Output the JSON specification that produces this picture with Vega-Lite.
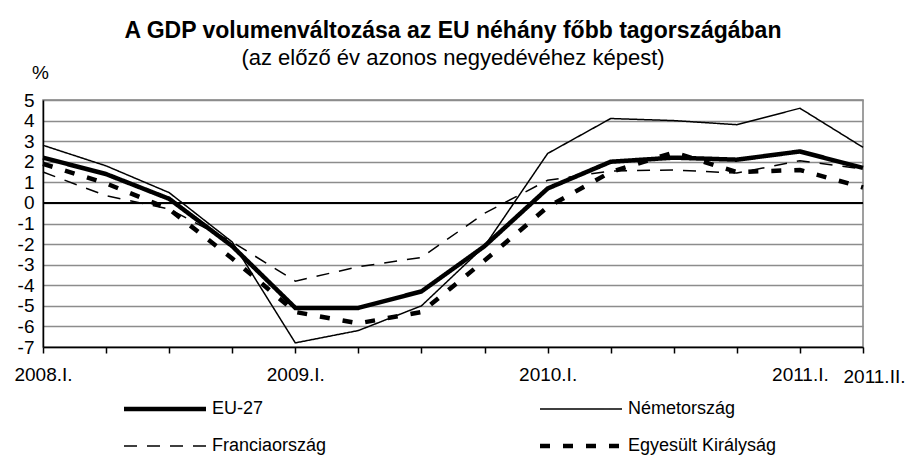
{
  "$schema": "https://vega.github.io/schema/vega-lite/v6.json",
  "width": 820,
  "height": 247,
  "autosize": "none",
  "padding": {"left": 43, "top": 100, "right": 48, "bottom": 110},
  "background": "white",
  "config": {
    "font": "Liberation Sans",
    "view": {"stroke": "#808080", "strokeWidth": 1.5},
    "axis": {"labelFont": "Liberation Sans", "titleFont": "Liberation Sans", "labelColor": "black", "titleColor": "black", "labelOverlap": false},
    "legend": {"labelFont": "Liberation Sans"}
  },
  "title": {
    "text": "A GDP volumenváltozása az EU néhány főbb tagországában",
    "subtitle": "(az előző év azonos negyedévéhez képest)",
    "font": "Liberation Sans",
    "fontSize": 23,
    "fontWeight": "bold",
    "color": "black",
    "subtitleFont": "Liberation Sans",
    "subtitleFontSize": 22,
    "subtitleColor": "black",
    "subtitlePadding": 5,
    "anchor": "middle",
    "frame": "group",
    "offset": -6
  },
  "data": {
    "values": [
      {"q": "2008.I.", "orszag": "EU-27", "v": 2.2},
      {"q": "2008.II.", "orszag": "EU-27", "v": 1.4},
      {"q": "2008.III.", "orszag": "EU-27", "v": 0.2},
      {"q": "2008.IV.", "orszag": "EU-27", "v": -2.1},
      {"q": "2009.I.", "orszag": "EU-27", "v": -5.1},
      {"q": "2009.II.", "orszag": "EU-27", "v": -5.1},
      {"q": "2009.III.", "orszag": "EU-27", "v": -4.3},
      {"q": "2009.IV.", "orszag": "EU-27", "v": -2.1},
      {"q": "2010.I.", "orszag": "EU-27", "v": 0.7},
      {"q": "2010.II.", "orszag": "EU-27", "v": 2.0},
      {"q": "2010.III.", "orszag": "EU-27", "v": 2.2},
      {"q": "2010.IV.", "orszag": "EU-27", "v": 2.1},
      {"q": "2011.I.", "orszag": "EU-27", "v": 2.5},
      {"q": "2011.II.", "orszag": "EU-27", "v": 1.7},
      {"q": "2008.I.", "orszag": "Németország", "v": 2.8},
      {"q": "2008.II.", "orszag": "Németország", "v": 1.8},
      {"q": "2008.III.", "orszag": "Németország", "v": 0.5},
      {"q": "2008.IV.", "orszag": "Németország", "v": -1.9},
      {"q": "2009.I.", "orszag": "Németország", "v": -6.8},
      {"q": "2009.II.", "orszag": "Németország", "v": -6.2},
      {"q": "2009.III.", "orszag": "Németország", "v": -5.0},
      {"q": "2009.IV.", "orszag": "Németország", "v": -2.1},
      {"q": "2010.I.", "orszag": "Németország", "v": 2.4},
      {"q": "2010.II.", "orszag": "Németország", "v": 4.1},
      {"q": "2010.III.", "orszag": "Németország", "v": 4.0},
      {"q": "2010.IV.", "orszag": "Németország", "v": 3.8},
      {"q": "2011.I.", "orszag": "Németország", "v": 4.6},
      {"q": "2011.II.", "orszag": "Németország", "v": 2.7},
      {"q": "2008.I.", "orszag": "Franciaország", "v": 1.5},
      {"q": "2008.II.", "orszag": "Franciaország", "v": 0.35},
      {"q": "2008.III.", "orszag": "Franciaország", "v": -0.3},
      {"q": "2008.IV.", "orszag": "Franciaország", "v": -1.9},
      {"q": "2009.I.", "orszag": "Franciaország", "v": -3.8},
      {"q": "2009.II.", "orszag": "Franciaország", "v": -3.1},
      {"q": "2009.III.", "orszag": "Franciaország", "v": -2.65},
      {"q": "2009.IV.", "orszag": "Franciaország", "v": -0.5},
      {"q": "2010.I.", "orszag": "Franciaország", "v": 1.1},
      {"q": "2010.II.", "orszag": "Franciaország", "v": 1.55},
      {"q": "2010.III.", "orszag": "Franciaország", "v": 1.6},
      {"q": "2010.IV.", "orszag": "Franciaország", "v": 1.45},
      {"q": "2011.I.", "orszag": "Franciaország", "v": 2.05},
      {"q": "2011.II.", "orszag": "Franciaország", "v": 1.65},
      {"q": "2008.I.", "orszag": "Egyesült Királyság", "v": 1.9},
      {"q": "2008.II.", "orszag": "Egyesült Királyság", "v": 0.95},
      {"q": "2008.III.", "orszag": "Egyesült Királyság", "v": -0.3},
      {"q": "2008.IV.", "orszag": "Egyesült Királyság", "v": -2.7},
      {"q": "2009.I.", "orszag": "Egyesült Királyság", "v": -5.3},
      {"q": "2009.II.", "orszag": "Egyesült Királyság", "v": -5.85},
      {"q": "2009.III.", "orszag": "Egyesült Királyság", "v": -5.3},
      {"q": "2009.IV.", "orszag": "Egyesült Királyság", "v": -2.8},
      {"q": "2010.I.", "orszag": "Egyesült Királyság", "v": -0.2},
      {"q": "2010.II.", "orszag": "Egyesült Királyság", "v": 1.5},
      {"q": "2010.III.", "orszag": "Egyesült Királyság", "v": 2.45},
      {"q": "2010.IV.", "orszag": "Egyesült Királyság", "v": 1.5},
      {"q": "2011.I.", "orszag": "Egyesült Királyság", "v": 1.6},
      {"q": "2011.II.", "orszag": "Egyesült Királyság", "v": 0.75}
    ]
  },
  "layer": [
    {
      "mark": {"type": "line", "color": "black", "strokeJoin": "miter", "strokeCap": "butt"},
      "encoding": {
        "x": {
          "field": "q",
          "type": "ordinal",
          "sort": ["2008.I.","2008.II.","2008.III.","2008.IV.","2009.I.","2009.II.","2009.III.","2009.IV.","2010.I.","2010.II.","2010.III.","2010.IV.","2011.I.","2011.II."],
          "scale": {"type": "point", "padding": 0},
          "axis": {
            "title": null,
            "labelAngle": 0,
            "labelFontSize": 19,
            "labelPadding": {"condition": {"test": "datum.value == '2011.II.'", "value": 14}, "value": 12},
            "labelOffset": {"condition": {"test": "datum.value == '2011.II.'", "value": 11}, "value": 0},
            "labelOverlap": false,
            "labelExpr": "indexof(['2008.I.','2009.I.','2010.I.','2011.I.','2011.II.'], datum.value) >= 0 ? datum.value : ''",
            "domainColor": "black",
            "domainWidth": 1.5,
            "tickColor": "black",
            "tickWidth": 1.5,
            "tickSize": 6,
            "grid": false
          }
        },
        "y": {
          "field": "v",
          "type": "quantitative",
          "scale": {"domain": [-7, 5], "nice": false, "zero": false},
          "axis": {
            "title": "%",
            "titleAngle": 0,
            "titleFontSize": 19,
            "titleFontWeight": "normal",
            "titleX": -3,
            "titleY": -28,
            "titleAlign": "center",
            "titleBaseline": "middle",
            "values": [-7,-6,-5,-4,-3,-2,-1,0,1,2,3,4,5],
            "tickCount": 13,
            "labelExpr": "'' + datum.value",
            "labelOverlap": false,
            "labelFontSize": 19,
            "labelPadding": 9,
            "ticks": false,
            "domainColor": "black",
            "domainWidth": 1.5,
            "gridColor": "#8c8c8c",
            "gridWidth": 1.5
          }
        },
        "strokeDash": {
          "field": "orszag",
          "type": "nominal",
          "scale": {
            "domain": ["EU-27", "Németország", "Franciaország", "Egyesült Királyság"],
            "range": [[1, 0], [1, 0], [13, 10], [10, 13]]
          },
          "legend": {
            "title": null,
            "orient": "none",
            "legendX": 77,
            "legendY": 300,
            "padding": 0,
            "direction": "horizontal",
            "columns": 2,
            "columnPadding": 204,
            "rowPadding": 19,
            "symbolType": "M-1,0H15.4",
            "symbolSize": 100,
            "symbolStrokeColor": "black",
            "labelFontSize": 18,
            "labelColor": "black",
            "labelOffset": 74,
            "labelLimit": 300
          }
        },
        "strokeWidth": {
          "field": "orszag",
          "type": "nominal",
          "scale": {
            "type": "ordinal",
            "domain": ["EU-27", "Németország", "Franciaország", "Egyesült Királyság"],
            "range": [4.5, 1.5, 1.5, 4.5]
          },
          "legend": {
            "title": null,
            "orient": "none",
            "legendX": 77,
            "legendY": 300,
            "padding": 0,
            "direction": "horizontal",
            "columns": 2,
            "columnPadding": 204,
            "rowPadding": 19,
            "symbolType": "M-1,0H15.4",
            "symbolSize": 100,
            "symbolStrokeColor": "black",
            "labelFontSize": 18,
            "labelColor": "black",
            "labelOffset": 74,
            "labelLimit": 300
          }
        }
      }
    },
    {
      "data": {"values": [{"nulla": 0}]},
      "mark": {"type": "rule", "color": "black", "strokeWidth": 2},
      "encoding": {
        "y": {"field": "nulla", "type": "quantitative", "scale": {"domain": [-7, 5], "nice": false, "zero": false}}
      }
    }
  ]
}
